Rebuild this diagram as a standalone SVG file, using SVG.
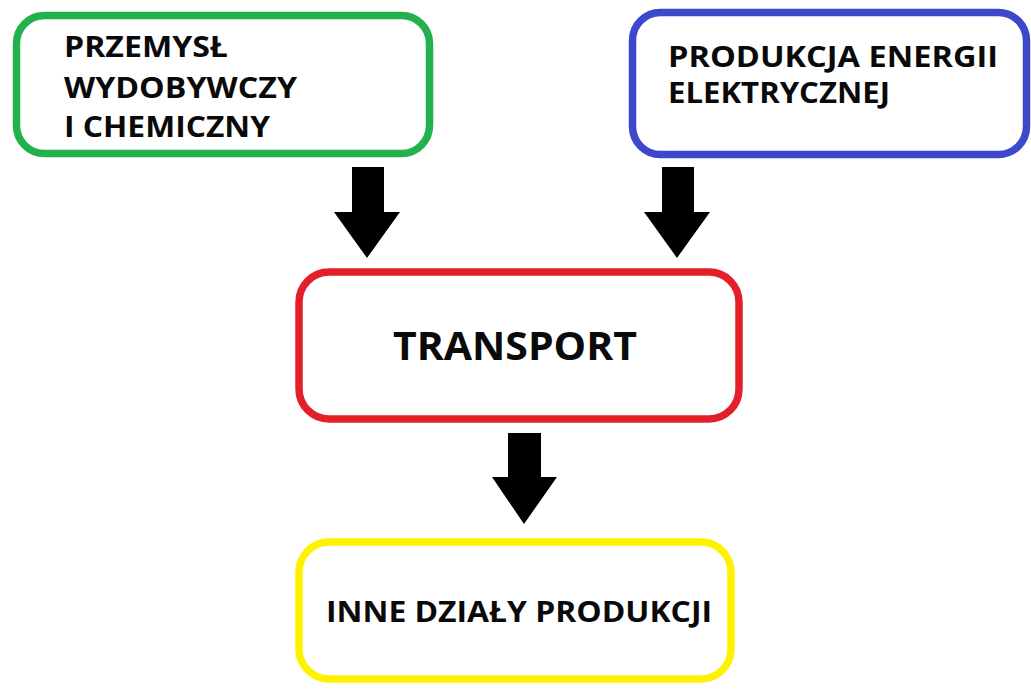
<svg xmlns="http://www.w3.org/2000/svg" width="1031" height="689" viewBox="0 0 1031 689">
  <style>
    .box { fill: #ffffff; stroke-width: 7.5; }
    .lbl { font-family: "Open Sans", "DejaVu Sans", sans-serif; font-weight: 700; fill: #0a0a0a; }
    .arrow { fill: #000000; }
  </style>
  <rect x="0" y="0" width="1031" height="689" fill="#ffffff"/>
  <g id="connectors">
    <polygon class="arrow" points="352,167 384,167 384,212 400,212 367,258 334,212 352,212"/>
    <polygon class="arrow" points="662,167 694,167 694,212 710,212 677,258 644,212 662,212"/>
    <polygon class="arrow" points="508,433 541,433 541,477 557,477 524,524 492,477 508,477"/>
  </g>
  <g id="node-przemysl">
    <rect class="box" x="16.5" y="15.5" width="413" height="138" rx="28" ry="28" stroke="#22B14C"/>
    <text class="lbl" x="64" y="57" font-size="29" textLength="164" lengthAdjust="spacingAndGlyphs">PRZEMYSŁ</text>
    <text class="lbl" x="64" y="98" font-size="29" textLength="233" lengthAdjust="spacingAndGlyphs">WYDOBYWCZY</text>
    <text class="lbl" x="64" y="137" font-size="29" textLength="206" lengthAdjust="spacingAndGlyphs">I CHEMICZNY</text>
  </g>
  <g id="node-energia">
    <rect class="box" x="632.5" y="12.5" width="394" height="142" rx="28" ry="28" stroke="#3F48CC"/>
    <text class="lbl" x="668" y="67" font-size="29" textLength="330" lengthAdjust="spacingAndGlyphs">PRODUKCJA ENERGII</text>
    <text class="lbl" x="668" y="103" font-size="29" textLength="222" lengthAdjust="spacingAndGlyphs">ELEKTRYCZNEJ</text>
  </g>
  <g id="node-transport">
    <rect class="box" x="299" y="272" width="440" height="147" rx="30" ry="30" stroke="#E3202A"/>
    <text class="lbl" x="393" y="360" font-size="39" textLength="244" lengthAdjust="spacingAndGlyphs">TRANSPORT</text>
  </g>
  <g id="node-inne">
    <rect class="box" x="299" y="542" width="432" height="137" rx="30" ry="30" stroke="#FFF200"/>
    <text class="lbl" x="326" y="622" font-size="29" textLength="386" lengthAdjust="spacingAndGlyphs">INNE DZIAŁY PRODUKCJI</text>
  </g>
</svg>
